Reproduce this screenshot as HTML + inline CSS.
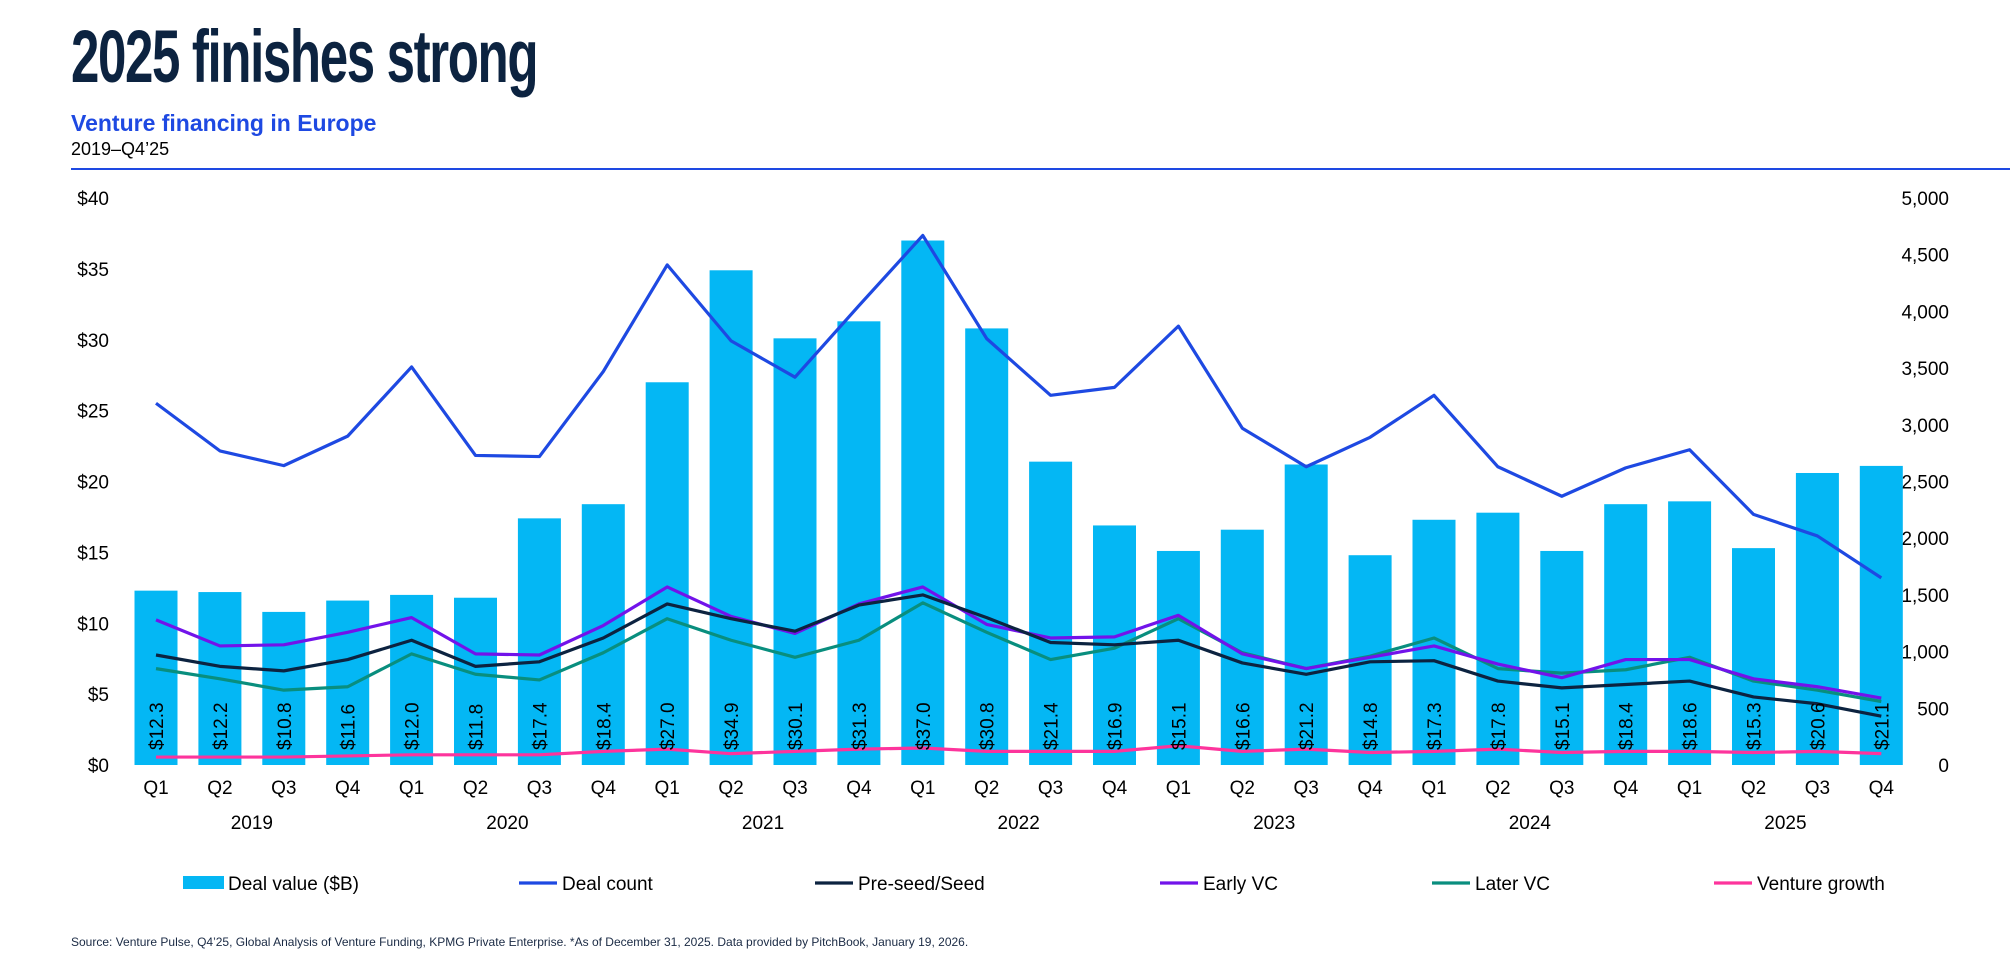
<!DOCTYPE html>
<html><head><meta charset="utf-8">
<style>
body{margin:0;width:2010px;height:974px;background:#fff;overflow:hidden;font-family:"Liberation Sans",Arial,sans-serif;position:relative}
.abs{position:absolute;white-space:nowrap}
</style></head>
<body>
<div class="abs" style="left:71px;top:14px;font-family:'Liberation Sans Narrow','Liberation Sans',sans-serif;font-weight:bold;font-size:74px;color:#0c2340;letter-spacing:-2px;transform:scaleX(0.69);transform-origin:left top">2025 finishes strong</div>
<div class="abs" style="left:71px;top:110px;font-size:23px;font-weight:bold;color:#1e49e2">Venture financing in Europe</div>
<div class="abs" style="left:71px;top:139px;font-size:18px;color:#000">2019–Q4’25</div>
<div class="abs" style="left:71px;top:168px;width:1939px;height:2px;background:#1e49e2"></div>
<svg id="chart" width="2010" height="974" style="position:absolute;left:0;top:0"></svg>
<div class="abs" style="left:71px;top:935px;font-size:12px;color:#1a2a44">Source: Venture Pulse, Q4’25, Global Analysis of Venture Funding, KPMG Private Enterprise. *As of December 31, 2025. Data provided by PitchBook, January 19, 2026.</div>
<script>
const quarters=["Q1","Q2","Q3","Q4","Q1","Q2","Q3","Q4","Q1","Q2","Q3","Q4","Q1","Q2","Q3","Q4","Q1","Q2","Q3","Q4","Q1","Q2","Q3","Q4","Q1","Q2","Q3","Q4"];
const years=["2019","2020","2021","2022","2023","2024","2025"];
const dealValue=[12.3,12.2,10.8,11.6,12.0,11.8,17.4,18.4,27.0,34.9,30.1,31.3,37.0,30.8,21.4,16.9,15.1,16.6,21.2,14.8,17.3,17.8,15.1,18.4,18.6,15.3,20.6,21.1];
const dealCount=[3190,2770,2640,2900,3510,2730,2720,3470,4410,3740,3420,4050,4670,3760,3260,3330,3870,2970,2630,2890,3260,2630,2370,2620,2780,2210,2020,1650];
const preSeed=[970,870,830,930,1100,870,910,1120,1420,1290,1180,1410,1500,1300,1080,1060,1100,900,800,910,920,740,680,710,740,600,540,430];
const earlyVC=[1280,1050,1060,1170,1300,980,970,1230,1570,1310,1160,1420,1570,1240,1120,1130,1320,980,850,950,1050,890,770,930,930,760,690,590];
const laterVC=[850,760,660,690,980,800,750,990,1290,1100,950,1100,1430,1170,930,1030,1290,990,850,960,1120,850,810,840,950,740,660,560];
const ventureGrowth=[70,70,70,80,90,90,90,120,140,100,120,140,150,120,120,120,170,120,140,110,120,140,110,120,120,110,120,100];
const leftTicks=[0,5,10,15,20,25,30,35,40];
const rightTicks=[0,500,1000,1500,2000,2500,3000,3500,4000,4500,5000];

const NS="http://www.w3.org/2000/svg";
const svg=document.getElementById('chart');
const top0=198,bot=765,x0=156,step=63.9,bw=43;
const xS=i=>x0+i*step;
const yL=v=>bot-(v/40)*(bot-top0);
const yR=v=>bot-(v/5000)*(bot-top0);
function mk(tag,a,txt){const e=document.createElementNS(NS,tag);for(const k in a)e.setAttribute(k,a[k]);if(txt!=null)e.textContent=txt;svg.appendChild(e);return e;}

leftTicks.forEach(v=>{const t=mk('text',{x:109,y:yL(v)+7,'text-anchor':'end','font-size':19,fill:'#000'},'$'+v);

});
rightTicks.forEach(v=>{const t=mk('text',{x:1949,y:yR(v)+7,'text-anchor':'end','font-size':19,fill:'#000'},v.toLocaleString('en-US'));

});

dealValue.forEach((v,i)=>{const r=mk('rect',{x:xS(i)-bw/2,y:yL(v),width:bw,height:bot-yL(v),fill:'#04b7f4'});

});

function line(arr,color,name){const p=mk('polyline',{points:arr.map((v,i)=>xS(i)+','+yR(v)).join(' '),fill:'none',stroke:color,'stroke-width':3.2,'stroke-linejoin':'round'});

}
line(ventureGrowth,'#fd349c','venture-growth-line');
line(laterVC,'#098e7e','later-vc-line');
line(earlyVC,'#7213ea','early-vc-line');
line(preSeed,'#0c2340','pre-seed-line');
line(dealCount,'#1e49e2','deal-count-line');

dealValue.forEach((v,i)=>{const cx=xS(i)+7,cy=750;const t=mk('text',{x:cx,y:cy,'font-size':19,fill:'#000',transform:`rotate(-90 ${cx} ${cy})`},'$'+v.toFixed(1));

});

quarters.forEach((q,i)=>{const t=mk('text',{x:xS(i),y:794,'text-anchor':'middle','font-size':19,fill:'#000'},q);

});
years.forEach((y,j)=>{const t=mk('text',{x:(xS(j*4+1)+xS(j*4+2))/2,y:829,'text-anchor':'middle','font-size':19,fill:'#000'},y);

});

const legend=[["Deal value ($B)","#04b7f4",183,true],["Deal count","#1e49e2",519,false],["Pre-seed/Seed","#0c2340",815,false],["Early VC","#7213ea",1160,false],["Later VC","#098e7e",1432,false],["Venture growth","#fd349c",1714,false]];
legend.forEach(([lab,c,x,bar])=>{
 const s=bar?mk('rect',{x:x,y:876,width:41,height:13,fill:c}):mk('line',{x1:x,y1:883,x2:x+38,y2:883,stroke:c,'stroke-width':3.2});
 
 
 const t=mk('text',{x:x+(bar?45:43),y:890,'font-size':19,fill:'#000'},lab);
 
 
});
</script>
</body></html>
